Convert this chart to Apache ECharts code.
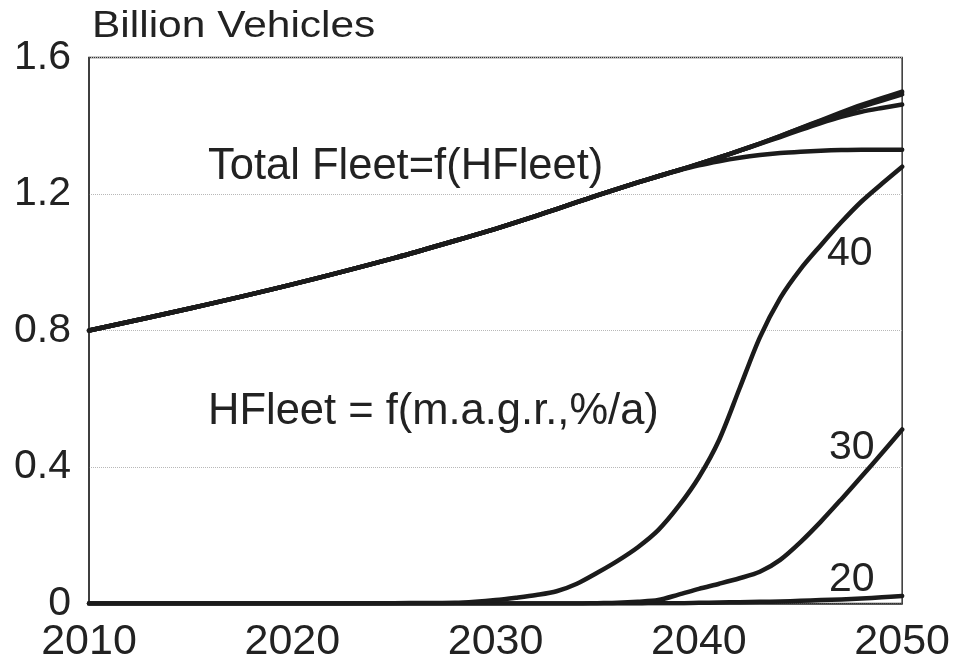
<!DOCTYPE html>
<html>
<head>
<meta charset="utf-8">
<script src="https://cdn.jsdelivr.net/npm/echarts@6/dist/echarts.min.js"></script>
<style>
  html, body { margin: 0; padding: 0; background: #fff; }
  #chart { width: 953px; height: 668px; }
</style>
</head>
<body>
<div id="chart"></div>
<script>
// Sample years (coarse early, yearly once the hydrogen fleets take off)
var years = [2010, 2015, 2020, 2025, 2028, 2029, 2030, 2031, 2032, 2033, 2034, 2035,
             2036, 2037, 2038, 2039, 2040, 2041, 2042, 2043, 2044, 2045, 2046, 2047,
             2048, 2049, 2050];

// Total fleet, billion vehicles (reference path and the three HFleet cases)
var totalBase = [0.80, 0.865, 0.935, 1.012, 1.063, 1.08, 1.098, 1.117, 1.136, 1.156, 1.176, 1.196,
                 1.215, 1.234, 1.252, 1.27, 1.288, 1.307, 1.327, 1.348, 1.37, 1.393, 1.416, 1.439,
                 1.461, 1.481, 1.50];
var total20 =   [0.80, 0.865, 0.935, 1.012, 1.063, 1.08, 1.098, 1.117, 1.136, 1.156, 1.176, 1.196,
                 1.215, 1.234, 1.252, 1.27, 1.288, 1.307, 1.327, 1.348, 1.37, 1.392, 1.414, 1.435,
                 1.455, 1.474, 1.492];
var total30 =   [0.80, 0.865, 0.935, 1.012, 1.063, 1.08, 1.098, 1.117, 1.136, 1.156, 1.176, 1.196,
                 1.215, 1.234, 1.252, 1.27, 1.288, 1.307, 1.327, 1.347, 1.367, 1.388, 1.408, 1.426,
                 1.441, 1.452, 1.462];
var total40 =   [0.80, 0.865, 0.935, 1.012, 1.063, 1.08, 1.098, 1.117, 1.136, 1.156, 1.176, 1.196,
                 1.215, 1.234, 1.252, 1.269, 1.284, 1.296, 1.306, 1.314, 1.32, 1.324, 1.327, 1.329,
                 1.33, 1.33, 1.33];

// Hydrogen fleet by mean annual growth rate (%/a)
var hfleet20 = [0, 0, 0, 0, 0, 0, 0, 0, 0, 0, 0, 0,
                0, 0, 0.001, 0.001, 0.002, 0.003, 0.004, 0.005, 0.006, 0.008, 0.010, 0.012,
                0.015, 0.018, 0.022];
var hfleet30 = [0, 0, 0, 0, 0, 0, 0, 0, 0, 0, 0, 0.001,
                0.002, 0.005, 0.01, 0.026, 0.043, 0.058, 0.074, 0.093, 0.128, 0.18, 0.24, 0.305,
                0.372, 0.44, 0.51];
var hfleet40 = [0, 0, 0, 0.001, 0.002, 0.005, 0.01, 0.017, 0.025, 0.036, 0.058, 0.09,
                0.125, 0.165, 0.215, 0.285, 0.37, 0.48, 0.63, 0.78, 0.895, 0.98, 1.05, 1.117,
                1.178, 1.23, 1.28];

// Axis ticks
var yTicks = [0, 0.4, 0.8, 1.2, 1.6];
var xTicks = [2010, 2020, 2030, 2040, 2050];

// Text annotations
var annotations = [
  { text: 'Total Fleet=f(HFleet)', left: 208, top: 145, size: 43.5 },
  { text: 'HFleet = f(m.a.g.r.,%/a)', left: 208, top: 390, size: 43.5 },
  { text: '40', left: 827, top: 233, size: 41 },
  { text: '30', left: 829, top: 427, size: 41 },
  { text: '20', left: 829, top: 559, size: 41 }
];

var FONT = '"Liberation Sans", Arial, sans-serif';
var INK = '#1b1b1b';

function pairs(vals) {
  return years.map(function (y, i) { return [y, vals[i]]; });
}

function curve(name, vals) {
  return {
    name: name,
    type: 'line',
    data: pairs(vals),
    smooth: 0.3,
    symbol: 'none',
    silent: true,
    lineStyle: { color: INK, width: 4.5, cap: 'round', join: 'round' }
  };
}

var chart = echarts.init(document.getElementById('chart'), null, { renderer: 'canvas' });

var graphics = annotations.map(function (a) {
  return {
    type: 'text',
    left: a.left,
    top: a.top,
    z: 10,
    style: { text: a.text, fontFamily: FONT, fontSize: a.size, fill: '#222' }
  };
});
// Unit caption above the plot, drawn slightly wide like the original lettering
graphics.push({
  type: 'text',
  x: 92,
  y: 9,
  scaleX: 1.18,
  z: 10,
  style: { text: 'Billion Vehicles', fontFamily: FONT, fontSize: 36, fill: '#222' }
});

chart.setOption({
  backgroundColor: '#ffffff',
  animation: false,
  grid: {
    left: 89, right: 50, top: 57.5, bottom: 64.5,
    show: true, borderColor: '#333', borderWidth: 1.5, backgroundColor: 'transparent'
  },
  xAxis: {
    type: 'value',
    min: xTicks[0],
    max: xTicks[xTicks.length - 1],
    interval: 10,
    axisLine: { show: true, lineStyle: { color: '#333', width: 1.5 } },
    axisTick: { show: false },
    splitLine: { show: false },
    axisLabel: {
      margin: 17,
      fontFamily: FONT, fontSize: 43, color: '#222',
      formatter: function (v) { return String(v); }
    }
  },
  yAxis: {
    type: 'value',
    min: yTicks[0],
    max: yTicks[yTicks.length - 1],
    interval: 0.4,
    axisLine: { show: true, lineStyle: { color: '#333', width: 1.5 } },
    axisTick: { show: false },
    splitLine: { show: true, lineStyle: { color: '#b8b8b8', width: 1, type: 'dotted' } },
    axisLabel: {
      margin: 18,
      fontFamily: FONT, fontSize: 41, color: '#222',
      formatter: function (v) { return v === 0 ? '0' : v.toFixed(1); }
    }
  },
  graphic: graphics,
  series: [
    curve('Total fleet', totalBase),
    curve('Total fleet (20 %/a)', total20),
    curve('Total fleet (30 %/a)', total30),
    curve('Total fleet (40 %/a)', total40),
    curve('HFleet 20 %/a', hfleet20),
    curve('HFleet 30 %/a', hfleet30),
    curve('HFleet 40 %/a', hfleet40)
  ]
});
</script>
</body>
</html>
